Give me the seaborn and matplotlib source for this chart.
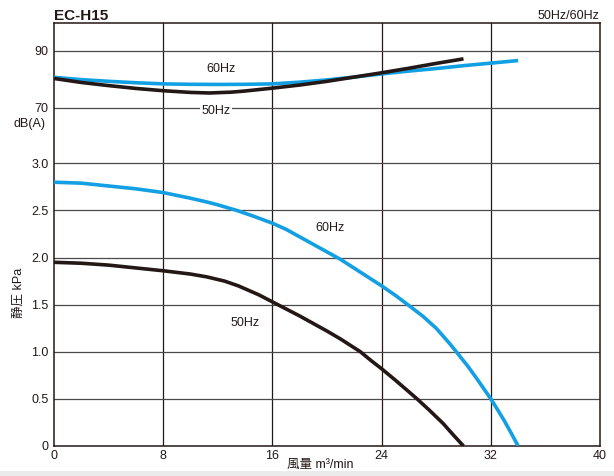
import matplotlib
matplotlib.use("Agg")
import matplotlib.pyplot as plt
import seaborn as sns
import pandas as pd
from matplotlib.patches import Rectangle

# ---- data ----
# static pressure (kPa) vs air flow (m3/min)
flow_p60 = [0, 2, 4, 6, 8, 10, 11.2, 12, 13.4, 14.5, 16, 17, 18, 19.5, 21, 22.5, 24,
            25, 26.1, 27, 28, 29, 29.5, 30.3, 31, 31.5, 32, 32.5, 33, 33.5, 34]
kpa_60 = [2.80, 2.79, 2.76, 2.73, 2.69, 2.63, 2.59, 2.56, 2.50, 2.445, 2.365, 2.30, 2.22,
          2.10, 1.98, 1.84, 1.70, 1.60, 1.48, 1.38, 1.25, 1.085, 0.995, 0.85, 0.71, 0.605,
          0.50, 0.385, 0.265, 0.135, 0.0]
flow_p50 = [0, 2, 4, 6, 8, 10, 11.2, 12.5, 13.5, 15, 16, 17, 18, 19, 20, 21, 22.45,
            23.2, 24, 25, 25.8, 26.6, 27.5, 28.5, 29.3, 30]
kpa_50 = [1.95, 1.94, 1.92, 1.89, 1.86, 1.825, 1.795, 1.75, 1.70, 1.605, 1.53, 1.455, 1.38,
          1.30, 1.22, 1.135, 1.00, 0.91, 0.82, 0.70, 0.60, 0.50, 0.38, 0.24, 0.11, 0.0]

# noise dB(A) vs air flow
flow_n60 = [0, 2, 4, 6, 8, 10, 12, 14, 16, 18, 20, 22, 24, 26, 28, 30, 32, 34]
db_60 = [80.7, 79.9, 79.3, 78.8, 78.4, 78.25, 78.2, 78.25, 78.4, 79.0, 79.8, 80.8,
         81.9, 82.9, 83.8, 84.8, 85.7, 86.6]
flow_n50 = [0, 2, 4, 6, 8, 10, 11.4, 13, 14, 16, 18, 20, 22, 24, 26, 28, 30]
db_50 = [80.3, 78.9, 77.8, 76.8, 76.0, 75.4, 75.2, 75.5, 75.9, 76.9, 78.0, 79.3,
         80.8, 82.3, 83.9, 85.6, 87.2]

x_ticks = [0, 8, 16, 24, 32, 40]
kpa_ticks = [0, 0.5, 1.0, 1.5, 2.0, 2.5, 3.0]
kpa_labels = ["0", "0.5", "1.0", "1.5", "2.0", "2.5", "3.0"]
db_ticks = [70, 90]
db_labels = ["70", "90"]

# dB scale is drawn in the upper band of the same axes
DB_BASE_Y = 3.59
DB_PER_UNIT = 0.0302
def db_to_y(v):
    return DB_BASE_Y + (v - 70) * DB_PER_UNIT

BLUE = "#12a0e3"
BLACK = "#231815"

sns.set_theme(style="white")
plt.rcParams["font.family"] = ["Liberation Sans", "Noto Sans CJK JP", "DejaVu Sans"]

fig = plt.figure(figsize=(6.14, 4.76), dpi=100)
ax = fig.add_axes([54 / 614, 1 - 446 / 476, 546 / 614, 423 / 476])

df = pd.concat([
    pd.DataFrame({"flow": flow_p60, "val": kpa_60, "s": "p60"}),
    pd.DataFrame({"flow": flow_p50, "val": kpa_50, "s": "p50"}),
    pd.DataFrame({"flow": flow_n60, "val": [db_to_y(v) for v in db_60], "s": "n60"}),
    pd.DataFrame({"flow": flow_n50, "val": [db_to_y(v) for v in db_50], "s": "n50"}),
], ignore_index=True)

palette = {"p60": BLUE, "p50": BLACK, "n60": BLUE, "n50": BLACK}
sns.lineplot(data=df[df.s.isin(["n60", "p60"])], x="flow", y="val", hue="s",
             palette=palette, sort=False, estimator=None, lw=2.6, legend=False,
             ax=ax, zorder=3)
sns.lineplot(data=df[df.s.isin(["n50", "p50"])], x="flow", y="val", hue="s",
             palette=palette, sort=False, estimator=None, lw=2.6, legend=False,
             ax=ax, zorder=4)
for ln in ax.get_lines():
    ln.set_solid_joinstyle("round")
    ln.set_solid_capstyle("butt")

ax.set_xlim(0, 40)
ax.set_ylim(0, db_to_y(99.8))

ax.set_xticks(x_ticks)
ax.set_xticklabels([str(t) for t in x_ticks])
yt = kpa_ticks + [db_to_y(v) for v in db_ticks]
ax.set_yticks(yt)
ax.set_yticklabels(kpa_labels + db_labels)
ax.tick_params(axis="both", length=0, labelsize=9, colors="#231815", pad=4)
ax.tick_params(axis="x", pad=3)

for t in x_ticks[1:-1]:
    ax.axvline(t, color="#231815", lw=0.9, zorder=1)
for t in yt[1:]:
    ax.axhline(t, color="#4a4a4a", lw=0.9, zorder=1)

for s in ax.spines.values():
    s.set_color("#231815")
    s.set_linewidth(1.1)

ax.set_xlabel("")
ax.set_ylabel("")

# curve labels
ax.text(20.2, 2.31, "60Hz", fontsize=9, ha="center", va="center", color="#231815")
ax.text(14.0, 1.31, "50Hz", fontsize=9, ha="center", va="center", color="#231815")
ax.text(12.2, db_to_y(83.6), "60Hz", fontsize=9, ha="center", va="center", color="#231815")
ax.text(11.9, db_to_y(69.0), "50Hz", fontsize=9, ha="center", va="center", color="#231815",
        bbox=dict(facecolor="white", edgecolor="none", pad=1.0), zorder=5)

# axis titles and headings
fig.text(46 / 614, 1 - 124 / 476, "dB(A)", fontsize=9, ha="right", va="center", color="#231815")
fig.text(19 / 614, 1 - 293 / 476, "静圧 kPa", fontsize=9, ha="center", va="center",
         rotation=90, color="#231815")
fig.text(320 / 614, 1 - 465 / 476, "風量 m³/min", fontsize=9, ha="center", va="center",
         color="#231815")
fig.text(54 / 614, 1 - 20 / 476, "EC-H15", fontsize=11, fontweight="bold", ha="left",
         va="baseline", color="#231815")
fig.text(599 / 614, 1 - 19 / 476, "50Hz/60Hz", fontsize=9, ha="right", va="baseline",
         color="#231815")

# light gray frame edge at the bottom
fig.patches.append(Rectangle((0, 0), 1, 5 / 476, transform=fig.transFigure,
                             facecolor="#ebebeb", edgecolor="none"))

fig.savefig("out.png", dpi=100, facecolor="white")
